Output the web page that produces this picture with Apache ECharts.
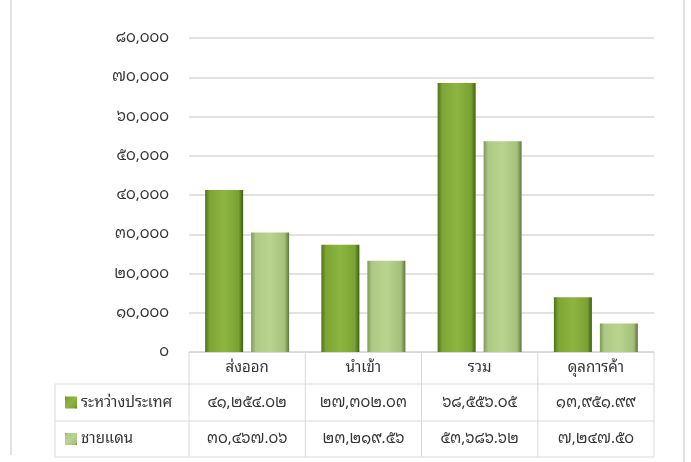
<!DOCTYPE html>
<html><head><meta charset="utf-8">
<script src="https://cdn.jsdelivr.net/npm/echarts@6/dist/echarts.min.js"></script>
<style>html,body{margin:0;padding:0;background:#fff}#c{width:691px;height:462px}</style>
</head><body><div id="c"></div>
<script>
const categories = ['ส่งออก', 'นำเข้า', 'รวม', 'ดุลการค้า'];
const seriesNames = ['ระหว่างประเทศ', 'ชายแดน'];
const intlValues = [41254.02, 27302.03, 68556.05, 13951.99];
const borderValues = [30467.06, 23219.56, 53686.62, 7247.50];
const yMin = 0, yMax = 80000, yInterval = 10000;

const FONT = "Tahoma, 'Noto Sans Thai Looped', 'Noto Serif Thai', Loma, Garuda, 'Noto Sans Thai', 'Noto Sans', sans-serif";
const TXT = '#333333';
const LINE = '#d9d9d9';
const thaiDigits = '๐๑๒๓๔๕๖๗๘๙';
function toThai(s){ return String(s).replace(/[0-9]/g, d => thaiDigits[+d]); }
function fmt(v, dec){ return toThai(v.toLocaleString('en-US',{minimumFractionDigits:dec, maximumFractionDigits:dec})); }

const g1 = {type:'linear',x:0,y:0,x2:1,y2:0,colorStops:[
  {offset:0,color:'#4e7318'},{offset:0.12,color:'#7ea534'},{offset:0.5,color:'#8cb541'},{offset:0.88,color:'#7aa232'},{offset:1,color:'#3f5e12'}]};
const g2 = {type:'linear',x:0,y:0,x2:1,y2:0,colorStops:[
  {offset:0,color:'#7f9a58'},{offset:0.12,color:'#adc983'},{offset:0.5,color:'#b9d48f'},{offset:0.88,color:'#a5c079'},{offset:1,color:'#5f7640'}]};

const chart = echarts.init(document.getElementById('c'));
const gridL = 189, gridR = 37, gridT = 38, gridB = 110;
chart.setOption({
  animation:false,
  grid:{left:gridL,right:gridR,top:gridT,bottom:gridB,containLabel:false},
  xAxis:{type:'category',data:categories,axisLine:{show:true,lineStyle:{color:LINE}},axisTick:{show:false},axisLabel:{show:false}},
  yAxis:{type:'value',min:yMin,max:yMax,interval:yInterval,
    axisLine:{show:false},axisTick:{show:false},
    splitLine:{lineStyle:{color:LINE,width:1.5}},
    axisLabel:{margin:20,color:TXT,fontFamily:FONT,fontSize:15,formatter:v=>fmt(v,0)}},
  series:[
    {name:seriesNames[0],type:'bar',data:intlValues,barWidth:38,barGap:'21%',
     itemStyle:{color:g1,shadowColor:'rgba(0,0,0,0.25)',shadowBlur:3,shadowOffsetX:1,shadowOffsetY:1}},
    {name:seriesNames[1],type:'bar',data:borderValues,barWidth:38,
     itemStyle:{color:g2,shadowColor:'rgba(0,0,0,0.25)',shadowBlur:3,shadowOffsetX:1,shadowOffsetY:1}}
  ]
});

const centers = categories.map((c,i)=>chart.convertToPixel({xAxisIndex:0}, i));
const band = centers[1]-centers[0];
const xs = [centers[0]-band/2, ...centers.map(c=>c+band/2)];
const rowY = [352, 384, 421, 457];
const tableL = 55, tableR = xs[xs.length-1];
const els = [];
function hline(x1,x2,y){ els.push({type:'line',shape:{x1,y1:y,x2,y2:y},style:{stroke:LINE,lineWidth:1}}); }
function vline(x,y1,y2){ els.push({type:'line',shape:{x1:x,y1,x2:x,y2},style:{stroke:LINE,lineWidth:1}}); }
hline(xs[0], tableR, rowY[0]);
hline(tableL, tableR, rowY[1]);
hline(tableL, tableR, rowY[2]);
hline(tableL, tableR, rowY[3]);
xs.forEach(x=>vline(x,rowY[0],rowY[3]));
vline(tableL,rowY[1],rowY[3]);
vline(11,0,455); els[els.length-1].style.lineWidth=1.5;
vline(684,0,462); els[els.length-1].style.lineWidth=1.5;
function txt(x,y,t,align){ els.push({type:'text',x,y,style:{text:t,fill:TXT,font:'15px '+FONT,align:align||'center',verticalAlign:'middle'}}); }
categories.forEach((c,i)=>txt(centers[i],(rowY[0]+rowY[1])/2,c));
const rows = [intlValues, borderValues];
const keys = [g1, g2];
rows.forEach((vals,r)=>{
  const yc = (rowY[r+1]+rowY[r+2])/2;
  els.push({type:'rect',shape:{x:65,y:yc-6,width:12,height:12},style:{fill:{type:'linear',x:0,y:0,x2:1,y2:1,colorStops:keys[r].colorStops}}});
  txt(81,yc,seriesNames[r],'left');
  vals.forEach((v,i)=>txt(centers[i],yc,fmt(v,2)));
});
chart.setOption({graphic:{elements:els}});
</script></body></html>
